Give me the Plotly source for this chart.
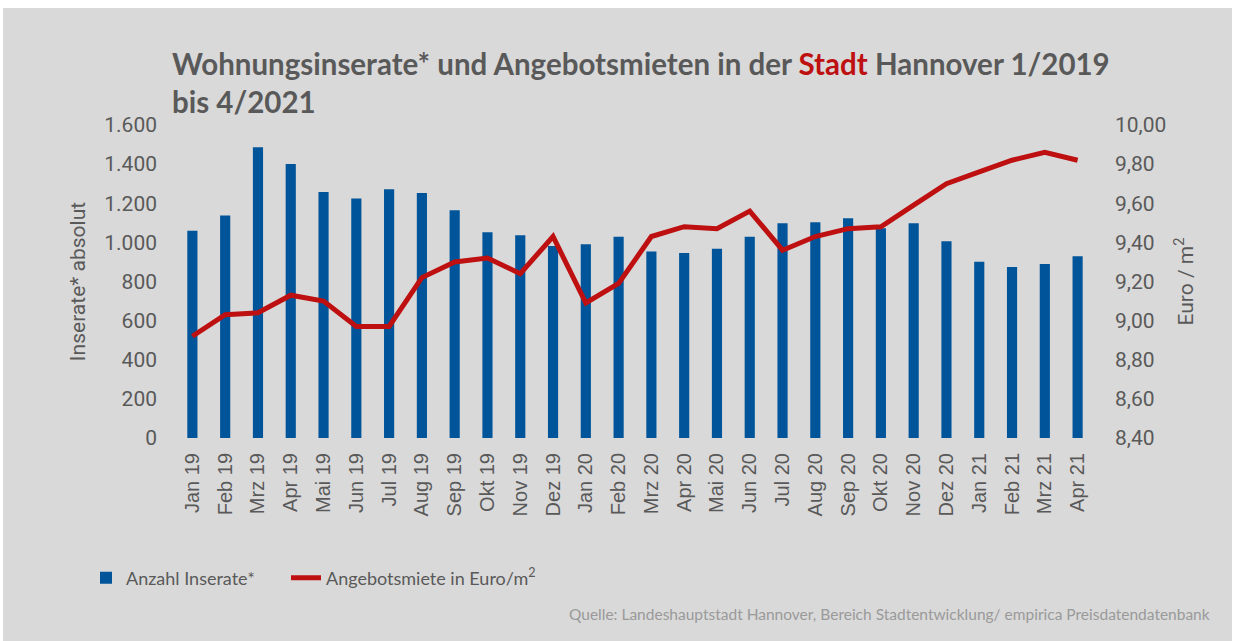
import plotly.graph_objects as go

months = ["Jan 19", "Feb 19", "Mrz 19", "Apr 19", "Mai 19", "Jun 19", "Jul 19", "Aug 19",
          "Sep 19", "Okt 19", "Nov 19", "Dez 19", "Jan 20", "Feb 20", "Mrz 20", "Apr 20",
          "Mai 20", "Jun 20", "Jul 20", "Aug 20", "Sep 20", "Okt 20", "Nov 20", "Dez 20",
          "Jan 21", "Feb 21", "Mrz 21", "Apr 21"]
inserate = [1060, 1137, 1486, 1401, 1258, 1224, 1271, 1253, 1164, 1052, 1036, 982,
            990, 1029, 953, 946, 968, 1029, 1098, 1103, 1123, 1072, 1098, 1006,
            901, 874, 890, 929]
miete = [8.92, 9.03, 9.04, 9.13, 9.10, 8.97, 8.97, 9.22, 9.30, 9.32, 9.24, 9.43,
         9.09, 9.19, 9.43, 9.48, 9.47, 9.56, 9.36, 9.43, 9.47, 9.48, 9.59, 9.70,
         9.76, 9.82, 9.86, 9.82]
left_ticks = [0, 200, 400, 600, 800, 1000, 1200, 1400, 1600]
right_ticks = [8.4, 8.6, 8.8, 9.0, 9.2, 9.4, 9.6, 9.8, 10.0]

BLUE = "#00559a"
RED = "#be1010"
GREY = "#595959"
BG = "#d9d9d9"
NARROW = "Lato, Roboto, sans-serif"

W, H = 1235, 641
ml, mr, mt, mb = 176, 141, 125, 203
pw, ph = W - ml - mr, H - mt - mb


def px_x(x):
    return (x - ml) / pw


def px_y(y):
    return (mt + ph - y) / ph


fig = go.Figure()
fig.add_trace(go.Bar(x=months, y=inserate, name="Anzahl Inserate*",
                     marker=dict(color=BLUE, line=dict(width=0)), yaxis="y",
                     legend="legend"))
fig.add_trace(go.Scatter(x=months, y=miete, name="Angebotsmiete in Euro/m<sup>2</sup>",
                         mode="lines", line=dict(color=RED, width=5), yaxis="y2",
                         legend="legend2"))

legend_common = dict(orientation="h", xanchor="left", yanchor="middle",
                     bgcolor="rgba(0,0,0,0)",
                     font=dict(family=NARROW, size=18, color=GREY))

fig.update_layout(
    width=W, height=H,
    margin=dict(l=ml, r=mr, t=mt, b=mb, autoexpand=False),
    paper_bgcolor="white", plot_bgcolor=BG,
    separators=",.",
    bargap=0.69,
    font=dict(family="Roboto, sans-serif", color=GREY),
    title=dict(
        text=("Wohnungsinserate* und Angebotsmieten in der "
              f"<span style='color:{RED}'>Stadt</span> Hannover 1/2019<br>bis 4/2021"),
        x=172 / W, xref="container", xanchor="left",
        y=1 - 75 / H, yref="container", yanchor="top",
        font=dict(family=NARROW, size=29.5, color=GREY, weight="bold"),
    ),
    xaxis=dict(
        categoryorder="array", categoryarray=months,
        tickangle=-90, showgrid=False, zeroline=False,
        showline=False, ticks="",
        tickfont=dict(family="Liberation Sans, Arial, sans-serif", size=20, color=GREY),
        ticklabelstandoff=10,
    ),
    yaxis=dict(
        range=[0, 1600], tickvals=left_ticks, tickformat=",d",
        showgrid=False, zeroline=False, showline=False, ticks="",
        tickfont=dict(family="Roboto, sans-serif", size=21, color=GREY),
        ticklabelstandoff=18,
        title=dict(text="Inserate* absolut", standoff=12,
                   font=dict(family="Roboto, sans-serif", size=21, color=GREY)),
    ),
    yaxis2=dict(
        range=[8.4, 10.0], tickvals=right_ticks, tickformat=".2f",
        overlaying="y", side="right",
        showgrid=False, zeroline=False, showline=False, ticks="",
        tickfont=dict(family="Roboto, sans-serif", size=21, color=GREY),
        ticklabelstandoff=20,
        title=dict(text="Euro / m<sup>2</sup>", standoff=12,
                   font=dict(family="Roboto, sans-serif", size=21, color=GREY)),
    ),
    showlegend=True,
    legend=dict(x=px_x(86), y=px_y(578), **legend_common),
    legend2=dict(x=px_x(286), y=px_y(578), **legend_common),
    shapes=[
        dict(type="rect", xref="paper", yref="paper", layer="below",
             x0=px_x(3), x1=px_x(1232), y0=px_y(650), y1=px_y(8),
             fillcolor=BG, line=dict(width=0)),
    ],
    annotations=[dict(
        text="Quelle: Landeshauptstadt Hannover, Bereich Stadtentwicklung/ empirica Preisdatendatenbank",
        xref="paper", yref="paper", x=px_x(1212), y=px_y(614),
        xanchor="right", yanchor="middle", showarrow=False,
        font=dict(family=NARROW, size=15.5, color="#9a9a9a"))],
)

fig.write_html("out.html", config={"displayModeBar": False},
               post_script="document.body.style.margin='0px';")
